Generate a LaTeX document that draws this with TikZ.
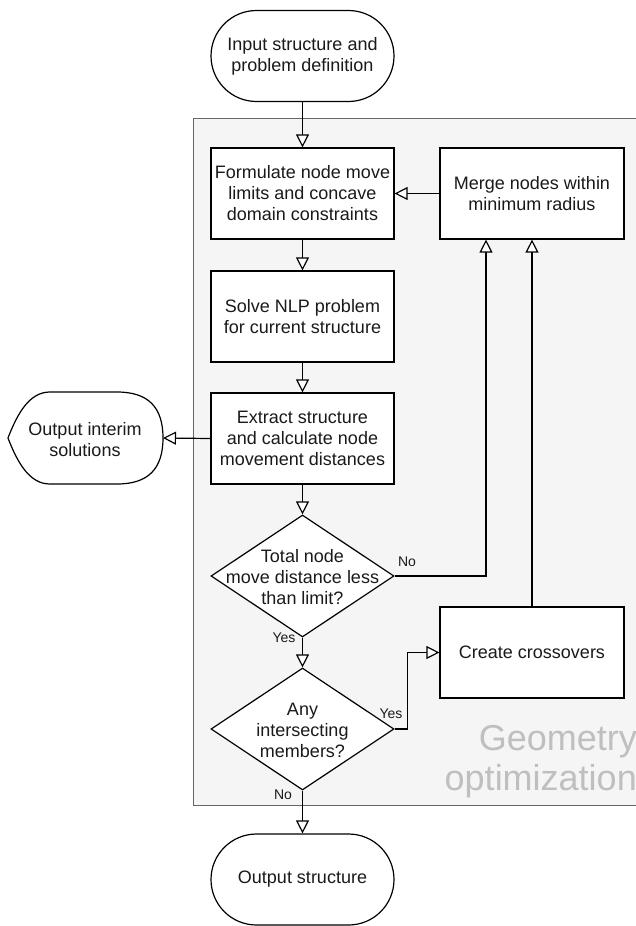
\documentclass[tikz,border=0pt]{standalone}
\usepackage{fontspec}
\setmainfont{Liberation Sans}
\usetikzlibrary{arrows.meta,shapes.geometric,calc}
\definecolor{grpfill}{HTML}{F5F5F5}
\definecolor{grpline}{HTML}{666666}
\definecolor{grptext}{HTML}{BFBFBF}
\definecolor{txt}{HTML}{1A1A1A}
\begin{document}
\begin{tikzpicture}[x=1pt,y=-1pt,
  every node/.style={font=\fontsize{18}{21}\selectfont, text=txt},
  proc/.style={draw, fill=white, line width=1.2pt, minimum width=183pt, minimum height=91pt, inner sep=0pt, align=center},
  term/.style={proc, rounded corners=45.5pt},
  dec/.style={draw, fill=white, diamond, line width=1.2pt, minimum width=183pt, minimum height=122pt, inner sep=0pt},
  dectext/.style={align=center, inner sep=0pt},
  lbl/.style={font=\fontsize{14}{16}\selectfont, inner sep=0pt},
  gtext/.style={font=\fontsize{36}{40}\selectfont, text=grptext, inner sep=0pt, anchor=base east},
  flow/.style={line width=1.2pt, -{Triangle[length=13pt,width=13pt,fill=white]}}
]
\useasboundingbox (0,0) rectangle (636,926);

% group container
\draw[grpline, fill=grpfill, line width=1pt] (193,118) rectangle (720,805);
\node[gtext] (geo1) at (637,750) {Geometry};
\node[gtext] (geo2) at (637,790) {optimization};

% nodes
\node[term] (start) at (302.5,56) {Input structure and\\problem definition};
\node[proc] (form) at (302.5,193.5) {Formulate node move\\limits and concave\\domain constraints};
\node[proc, minimum width=184pt] (merge) at (532,193.5) {Merge nodes within\\minimum radius};
\node[proc] (solve) at (302.5,316.5) {Solve NLP problem\\for current structure};
\node[proc] (extract) at (302.5,438.5) {Extract structure\\and calculate node\\movement distances};
\node[dec] (d1) at (302.5,576) {};
\node[dectext] (d1t) at (302.5,577) {Total node\\move distance less\\than limit?};
\node[dec] (d2) at (302.5,729) {};
\node[dectext] (d2t) at (302.5,730) {Any\\intersecting\\members?};
\node[proc, minimum width=184pt] (cross) at (532,652.5) {Create crossovers};
\node[term] (stop) at (302.5,879.5) {Output structure};

% display shape for interim output
\draw[line width=1.2pt, fill=white] (8,438) .. controls (18,412) and (30,392) .. (50,392) -- (117,392)
  .. controls (148,392) and (163,407) .. (163,438)
  .. controls (163,469) and (148,484) .. (117,484) -- (50,484)
  .. controls (30,484) and (18,464) .. (8,438) -- cycle;
\node[align=center, inner sep=0pt] (interim) at (85,440) {Output interim\\solutions};
\coordinate (interimE) at (163,438);

% connectors
\draw[flow] (start) -- (form);
\draw[flow] (form) -- (solve);
\draw[flow] (solve) -- (extract);
\draw[flow] (extract) -- (d1.north);
\draw[flow] (d1.south) -- (d2.north);
\draw[flow] (d2.south) -- (stop.north);
\draw[flow] (extract.west) -- (interimE);
\draw[flow] (merge.west) -- (form.east);
\draw[flow] (d1.east) -| ([xshift=-46pt]merge.south);
\draw[flow] (cross.north) -- (merge.south);
\draw[flow] (d2.east) -- ++(13,0) |- (cross.west);

% labels
\node[lbl] (no1) at (407,562) {No};
\node[lbl] (yes1) at (284,638) {Yes};
\node[lbl] (yes2) at (391,714) {Yes};
\node[lbl] (no2) at (283,795) {No};
\end{tikzpicture}
\end{document}
